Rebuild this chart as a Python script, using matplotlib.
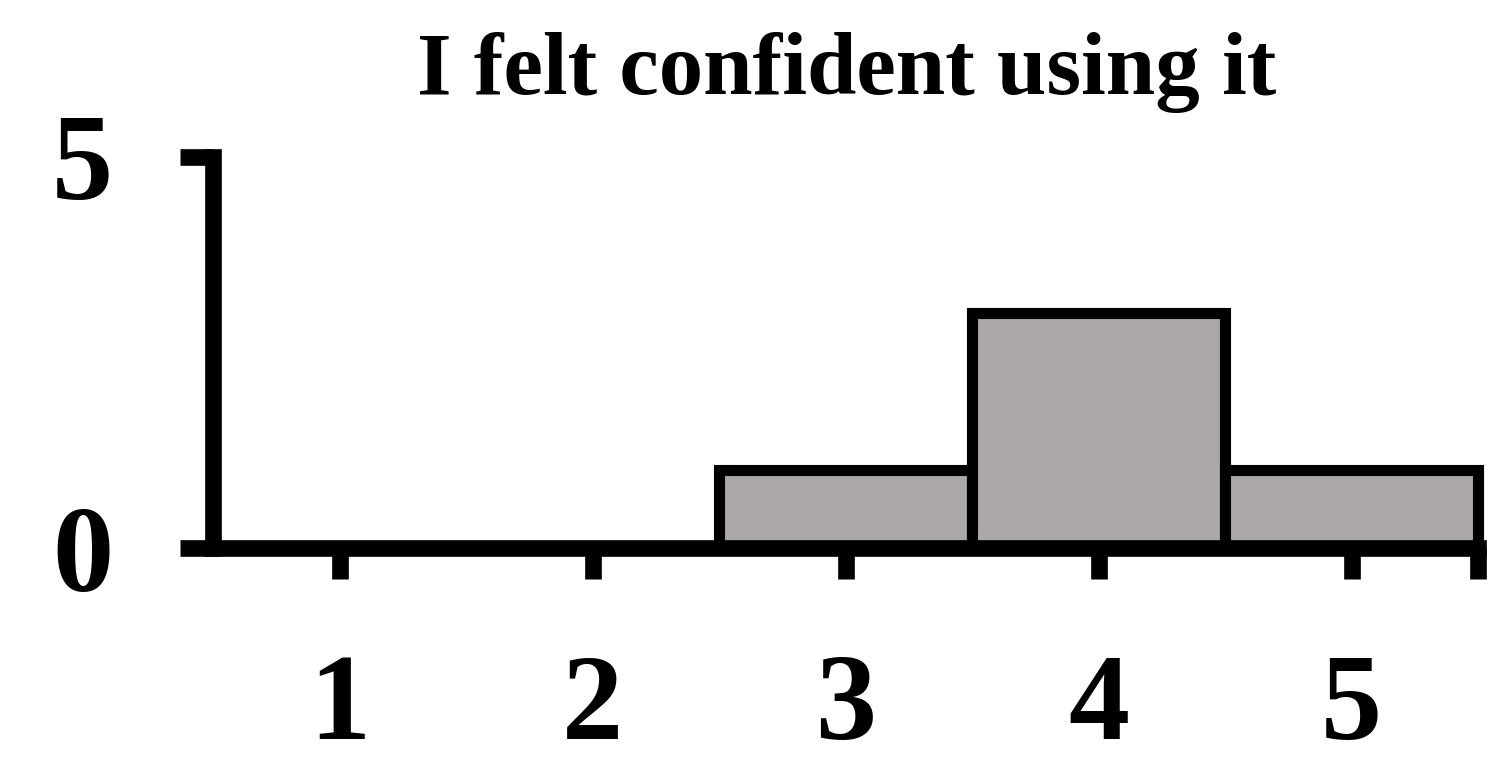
import numpy as np
import matplotlib
matplotlib.use("Agg")
import matplotlib.pyplot as plt

# data
categories = [1, 2, 3, 4, 5]
counts = [0, 0, 1, 3, 1]
tick_labels = ["1", "2", "3", "4", "5"]
title = "I felt confident using it"

plt.rcParams['font.family'] = ['Liberation Serif', 'DejaVu Serif']
plt.rcParams['font.weight'] = 'bold'

fig = plt.figure(figsize=(14.93, 7.83), dpi=100)
ax = fig.add_axes([0.1427, 0.300, 0.990 - 0.1427, 0.4995])

ax.bar(categories, counts, width=1.0, color="#aca8a7", edgecolor="black",
       linewidth=8, clip_on=False, zorder=1)

ax.set_xlim(0.5, 5.5)
ax.set_ylim(0, 5)

for s in ['top', 'right']:
    ax.spines[s].set_visible(False)
for s in ['left', 'bottom']:
    ax.spines[s].set_linewidth(12)
    ax.spines[s].set_capstyle('projecting')
    ax.spines[s].set_zorder(3)

ax.set_xticks(categories + [5.5])
ax.set_xticklabels(tick_labels + [""])
ax.set_yticks([0, 5])
ax.set_yticklabels(["0", "5"])
ax.tick_params(axis='x', direction='out', length=22, width=12, pad=54, labelsize=88)
ax.tick_params(axis='y', direction='out', length=24, width=12, pad=48, labelsize=88)
for lab in ax.get_xticklabels() + ax.get_yticklabels():
    lab.set_fontweight('bold')

fig.text(0.567, 0.907, title, ha='center', va='center', fontsize=64, fontweight='bold')

fig.savefig("out.png", dpi=100)
